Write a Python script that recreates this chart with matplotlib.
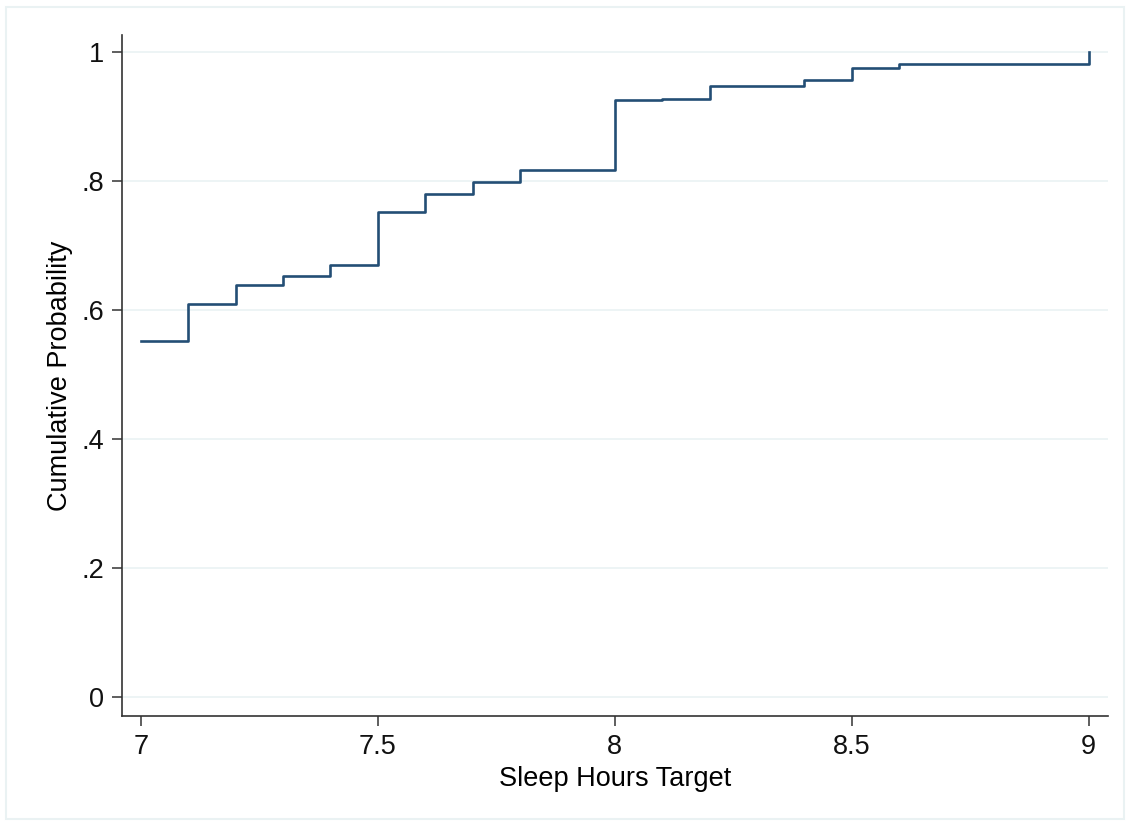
import matplotlib
matplotlib.use('Agg')
import matplotlib.pyplot as plt
from matplotlib.patches import Rectangle

hours = [7.0, 7.1, 7.2, 7.3, 7.4, 7.5, 7.6, 7.7, 7.8, 8.0, 8.1, 8.2, 8.4, 8.5, 8.6, 9.0]
cumprob = [0.552, 0.610, 0.639, 0.653, 0.669, 0.752, 0.779, 0.798, 0.817,
           0.925, 0.927, 0.947, 0.957, 0.975, 0.981, 1.0]

xticks = [7, 7.5, 8, 8.5, 9]
xticklabels = ['7', '7.5', '8', '8.5', '9']
yticks = [0, 0.2, 0.4, 0.6, 0.8, 1.0]
yticklabels = ['0', '.2', '.4', '.6', '.8', '1']

plt.rcParams['font.family'] = ['Liberation Sans', 'DejaVu Sans']

fig = plt.figure(figsize=(11.3, 8.25), dpi=100)
# light outer frame like the stata graph region
fig.patches.append(Rectangle((6/1130, 6/825), 1118/1130, 812/825, transform=fig.transFigure,
                             fill=False, edgecolor='#eaf2f3', linewidth=1.5))

ax = fig.add_axes([122/1130, 1 - 716/825, (1108 - 122)/1130, (716 - 35)/825])
ax.step(hours, cumprob, where='post', color='#234e75', linewidth=1.9)

ax.set_xlim(6.9605, 9.0407)
ax.set_ylim(-0.029, 1.026)
ax.set_xticks(xticks)
ax.set_xticklabels(xticklabels)
ax.set_yticks(yticks)
ax.set_yticklabels(yticklabels)
ax.grid(axis='y', color='#eaf2f3', linewidth=1.2)
ax.set_axisbelow(True)

for s in ['top', 'right']:
    ax.spines[s].set_visible(False)
for s in ['left', 'bottom']:
    ax.spines[s].set_color('#333333')
    ax.spines[s].set_linewidth(1.2)

ax.tick_params(axis='both', direction='out', length=7, width=1.1, color='#333333',
               labelsize=19.5, labelcolor='#111111', pad=6)
ax.set_xlabel('Sleep Hours Target', fontsize=19.5, labelpad=4)
ax.set_ylabel('Cumulative Probability', fontsize=19.5, labelpad=6)

fig.savefig('out.png', dpi=100, facecolor='white')
